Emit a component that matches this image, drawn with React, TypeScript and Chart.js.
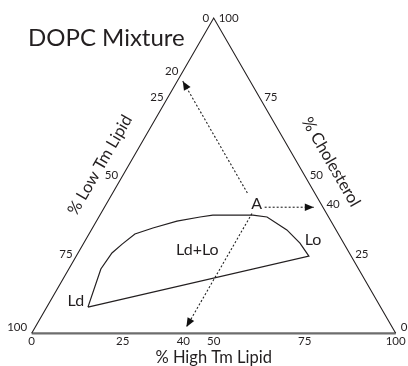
import React, { useEffect, useRef } from "react";
import { Chart, registerables } from "chart.js";
Chart.register(...registerables);

// ---- data (ternary: % High Tm Lipid, % Cholesterol; % Low Tm = 100 - both) ----
const triangleHigh = [0, 0, 100];
const triangleChol = [0, 100, 0];

const boundaryHigh = [11.3, 8.8, 9.3, 10.7, 12.6, 16.6, 22.1, 27.8, 31.0, 42.0, 46.2, 53.7, 59.4, 63.9, 11.3];
const boundaryChol = [8.3, 20.4, 25.5, 28.3, 31.5, 33.4, 35.6, 36.9, 37.5, 37.5, 36.9, 32.8, 28.6, 24.5, 8.3];

// dotted arrows from composition A to the three axes
const arrowStartHigh = [37, 44, 41.5];
const arrowStartChol = [44.5, 40, 38];
const arrowEndHigh = [1.5, 57.5, 41.5];
const arrowEndChol = [80, 40, 2];

const highTmTicks = [0, 25, 40, 50, 75, 100];
const lowTmTicks = [0, 20, 25, 50, 75, 100];
const cholTicks = [100, 75, 50, 40, 25, 0];

const regionLabels = ["Ld", "Ld+Lo", "Lo", "A"];
const regionHigh = [7.05, 32.3, 62.5, 41.3];
const regionChol = [10.2, 26.4, 29.6, 41.0];

const titleText = "DOPC Mixture";
const bottomTitle = "% High Tm Lipid";
const leftTitle = "% Low Tm Lipid";
const rightTitle = "% Cholesterol";

const S3 = Math.sqrt(3) / 2;
const toXY = (h: number, c: number) => ({ x: h + c / 2, y: c * S3 });

const FONT = "Lato, 'Liberation Sans', sans-serif";

const textPlugin = {
  id: "ternaryText",
  afterDatasetsDraw(chart: any) {
    const { ctx } = chart;
    const xs = chart.scales.x;
    const ys = chart.scales.y;
    const P = (h: number, c: number) => {
      const p = toXY(h, c);
      return { x: xs.getPixelForValue(p.x), y: ys.getPixelForValue(p.y) };
    };
    ctx.save();

    // arrowheads
    for (let i = 0; i < arrowEndHigh.length; i++) {
      const a = P(arrowStartHigh[i], arrowStartChol[i]);
      const b = P(arrowEndHigh[i], arrowEndChol[i]);
      const ang = Math.atan2(b.y - a.y, b.x - a.x);
      const L = 9, W = 3.8;
      ctx.beginPath();
      ctx.moveTo(b.x, b.y);
      ctx.lineTo(b.x - L * Math.cos(ang) + W * Math.sin(ang), b.y - L * Math.sin(ang) - W * Math.cos(ang));
      ctx.lineTo(b.x - L * Math.cos(ang) - W * Math.sin(ang), b.y - L * Math.sin(ang) + W * Math.cos(ang));
      ctx.closePath();
      ctx.fillStyle = "#111";
      ctx.fill();
    }

    ctx.fillStyle = "#231f20";
    // title
    ctx.font = `24px ${FONT}`;
    ctx.textAlign = "left";
    ctx.textBaseline = "alphabetic";
    ctx.fillText(titleText, 28, 45.5);

    // tick labels
    ctx.font = `11.5px ${FONT}`;
    ctx.textBaseline = "middle";
    ctx.textAlign = "center";
    highTmTicks.forEach((v) => {
      const p = P(v, 0);
      const dx = v === 40 ? 6 : 0;
      ctx.fillText(String(v), p.x + dx, p.y + 7.5);
    });
    ctx.textAlign = "right";
    lowTmTicks.forEach((v) => {
      const p = P(0, 100 - v);
      let dx = -4.5, dy = 0;
      if (v === 100) dy = -6;
      if (v === 20) { dx += 5.5; dy -= 10; }
      ctx.fillText(String(v), p.x + dx, p.y + dy);
    });
    ctx.textAlign = "left";
    cholTicks.forEach((v) => {
      const p = P(100 - v, v);
      let dx = 5, dy = 0;
      if (v === 0) dy = -6;
      if (v === 40) { dx -= 1.5; dy -= 3; }
      ctx.fillText(String(v), p.x + dx, p.y + dy);
    });

    // region labels
    ctx.font = `16px ${FONT}`;
    ctx.textAlign = "center";
    regionLabels.forEach((t, i) => {
      const p = P(regionHigh[i], regionChol[i]);
      ctx.fillText(t, p.x, p.y);
    });

    // axis titles
    ctx.font = `16.5px ${FONT}`;
    const bl = P(0, 0), br = P(100, 0);
    ctx.fillText(bottomTitle, (bl.x + br.x) / 2, 357.5);

    ctx.save();
    ctx.translate(100, 165);
    ctx.rotate(-Math.PI / 3);
    ctx.fillText(leftTitle, 0, 0);
    ctx.restore();

    ctx.save();
    ctx.translate(331, 162);
    ctx.rotate(Math.PI / 3);
    ctx.fillText(rightTitle, 0, 0);
    ctx.restore();

    ctx.restore();
  },
};

export default function App() {
  const ref = useRef<HTMLCanvasElement>(null);
  useEffect(() => {
    if (!ref.current) return;
    const line = (hs: number[], cs: number[]) => hs.map((h, i) => toXY(h, cs[i]));
    const arrowDatasets = arrowEndHigh.map((_, i) => ({
      data: [toXY(arrowStartHigh[i], arrowStartChol[i]), toXY(arrowEndHigh[i], arrowEndChol[i])],
      showLine: true,
      borderColor: "#222",
      borderWidth: 1.1,
      borderDash: [2, 2],
      pointRadius: 0,
      fill: false,
    }));
    const chart = new Chart(ref.current, {
      type: "scatter",
      data: {
        datasets: [
          {
            data: line(triangleHigh, triangleChol),
            showLine: true,
            borderColor: "#231f20",
            borderWidth: 1.1,
            pointRadius: 0,
            fill: false,
          },
          {
            data: line([0, 100], [0, 0]),
            showLine: true,
            borderColor: "#6d6d6d",
            borderWidth: 2.2,
            pointRadius: 0,
            fill: false,
          },
          {
            data: line(boundaryHigh, boundaryChol),
            showLine: true,
            borderColor: "#231f20",
            borderWidth: 1.2,
            pointRadius: 0,
            fill: false,
          },
          ...arrowDatasets,
        ],
      } as any,
      options: {
        responsive: false,
        maintainAspectRatio: false,
        animation: false,
        events: [],
        layout: { padding: 0 },
        plugins: { legend: { display: false }, tooltip: { enabled: false } },
        scales: {
          x: { type: "linear", min: -8.709, max: 103.38, display: false },
          y: { type: "linear", min: -8.98, max: 91.57, display: false },
        },
      },
      plugins: [textPlugin],
    });
    return () => chart.destroy();
  }, []);
  return (
    <div style={{ position: "absolute", left: 0, top: 0, width: 408, height: 366, background: "#fff" }}>
      <canvas ref={ref} width={408} height={366} style={{ display: "block" }} />
    </div>
  );
}
